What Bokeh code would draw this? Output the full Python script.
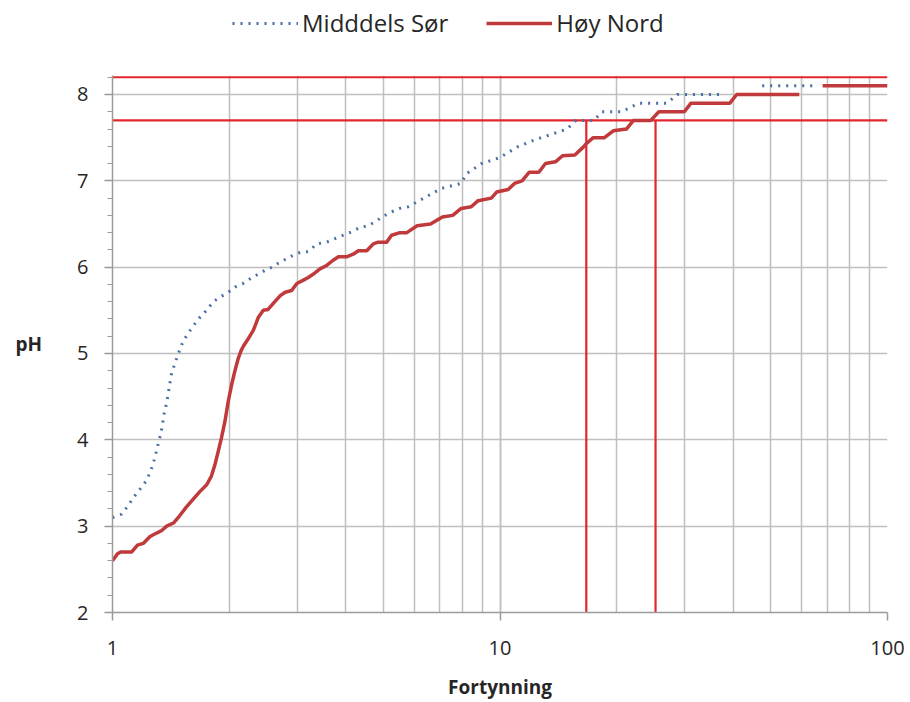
import numpy as np
from bokeh.plotting import figure
from bokeh.layouts import column
from bokeh.models import (Range1d, Legend, LegendItem, SingleIntervalTicker,
                          LogTicker)
from bokeh.embed import file_html
from bokeh.resources import INLINE

nan = float("nan")

# Middels Sør (dotted blue)
sor_x = [1.0, 1.056, 1.094, 1.132, 1.178, 1.22, 1.25, 1.275, 1.295, 1.313, 1.334,
         1.347, 1.36, 1.38, 1.393, 1.407, 1.421, 1.45, 1.479, 1.508, 1.554, 1.61,
         1.675, 1.75, 1.82, 1.89, 1.99, 2.07, 2.17, 2.29, 2.38, 2.47, 2.58, 2.71,
         2.82, 2.93, 3.05, 3.2, 3.37, 3.57, 3.75, 3.94, 4.14, 4.35, 4.57, 4.81,
         5.0, 5.25, 5.5, 5.8, 6.3, 7.04, 7.94, 8.18, 8.96, 10.0, 11.06, 12.2,
         13.4, 14.9, 15.7, 17.5, 18.3, 20.6, 21.7, 22.8, 27.0, 28.7, 38.0, nan,
         47.5, 65.6]
sor_ph = [3.1, 3.14, 3.23, 3.33, 3.43, 3.52, 3.62, 3.73, 3.85, 3.96, 4.08,
          4.19, 4.31, 4.43, 4.54, 4.66, 4.77, 4.89, 5.0, 5.1, 5.21, 5.31,
          5.41, 5.5, 5.6, 5.65, 5.71, 5.77, 5.81, 5.88, 5.92, 5.96, 6.0, 6.06,
          6.1, 6.14, 6.17, 6.18, 6.27, 6.29, 6.33, 6.37, 6.41, 6.46, 6.48, 6.54,
          6.59, 6.64, 6.68, 6.7, 6.79, 6.91, 6.97, 7.08, 7.2, 7.27, 7.39, 7.47,
          7.53, 7.6, 7.7, 7.7, 7.8, 7.8, 7.85, 7.9, 7.9, 8.0, 8.0, nan,
          8.1, 8.1]

# Høy Nord (solid red)
nord_x = [1.0, 1.03, 1.05, 1.12, 1.16, 1.2, 1.25, 1.3, 1.34, 1.38, 1.44, 1.49,
          1.55, 1.62, 1.68, 1.75, 1.80, 1.84, 1.875, 1.91, 1.95, 1.99, 2.03,
          2.07, 2.11, 2.15, 2.18, 2.24, 2.31, 2.38, 2.45, 2.52, 2.60, 2.71,
          2.79, 2.90, 2.99, 3.11, 3.20, 3.30, 3.43, 3.57, 3.71, 3.83, 4.02,
          4.18, 4.31, 4.53, 4.71, 4.85, 5.10, 5.25, 5.52, 5.75, 6.11, 6.62,
          7.1, 7.55, 7.94, 8.43, 8.78, 9.5, 9.8, 10.5, 10.9, 11.4, 11.9, 12.6,
          13.1, 13.9, 14.5, 15.6, 16.4, 16.7, 17.4, 18.6, 19.6, 21.2, 22.1,
          24.5, 25.7, 29.9, 31.1, 39.2, 40.8, 59.2, nan, 68.0, 100.0]
nord_ph = [2.6, 2.68, 2.7, 2.7, 2.78, 2.8, 2.88, 2.92, 2.95, 3.0, 3.04, 3.12,
           3.22, 3.32, 3.4, 3.48, 3.58, 3.72, 3.87, 4.02, 4.21, 4.45, 4.64,
           4.8, 4.94, 5.04, 5.09, 5.17, 5.27, 5.42, 5.5, 5.51, 5.58, 5.67,
           5.71, 5.73, 5.81, 5.85, 5.88, 5.92, 5.98, 6.02, 6.08, 6.12, 6.12,
           6.15, 6.19, 6.19, 6.27, 6.29, 6.29, 6.37, 6.4, 6.4, 6.48, 6.5,
           6.58, 6.6, 6.68, 6.7, 6.77, 6.8, 6.87, 6.9, 6.97, 7.0, 7.1, 7.1,
           7.2, 7.22, 7.29, 7.3, 7.39, 7.43, 7.5, 7.5, 7.58, 7.6, 7.7,
           7.7, 7.8, 7.8, 7.9, 7.9, 8.0, 8.0, nan, 8.1, 8.1]

# reference lines
h_lines = [8.2, 7.7]
v_lines = [16.7, 25.2]
series_names = ["Midddels Sør", "Høy Nord"]

FONT = "Open Sans"
GRID = "#BFBFBF"
AXIS = "#9A9A9A"
REF_RED = "#E3262E"
SER_RED = "#C0393B"
BLUE = "#4A6FA5"
TXT = "#262626"

p = figure(width=910, height=652, frame_width=775, frame_height=537,
           x_axis_type="log", title=None,
           x_range=Range1d(1, 100), y_range=Range1d(2, 8.22),
           output_backend="svg", toolbar_location=None,
           min_border_left=112, min_border_right=23,
           min_border_bottom=90, min_border_top=25)
p.outline_line_color = None
p.background_fill_color = "white"

# grids
p.xgrid.grid_line_color = GRID
p.xgrid.grid_line_width = 1.5
p.xgrid.minor_grid_line_color = GRID
p.xgrid.minor_grid_line_width = 1.5
p.ygrid.grid_line_color = GRID
p.ygrid.grid_line_width = 1.5

# x axis
p.xaxis.ticker = LogTicker(num_minor_ticks=10)
p.xaxis.major_label_overrides = {1: "1", 10: "10", 100: "100"}
p.xaxis.axis_label = "Fortynning"
p.xaxis.major_tick_out = 8
p.xaxis.major_tick_in = 0
p.xaxis.minor_tick_out = 0
p.xaxis.major_label_standoff = 20
p.xaxis.axis_label_standoff = 16

# y axis
p.yaxis.ticker = SingleIntervalTicker(interval=1, num_minor_ticks=5)
p.yaxis.axis_label = "pH"
p.yaxis.axis_label_orientation = "horizontal"
p.yaxis.major_tick_out = 8
p.yaxis.major_tick_in = 0
p.yaxis.minor_tick_out = 5
p.yaxis.minor_tick_in = 0
p.yaxis.major_label_standoff = 16
p.yaxis.axis_label_standoff = 32

for ax in (p.xaxis, p.yaxis):
    ax.axis_line_color = AXIS
    ax.axis_line_width = 1.5
    ax.major_tick_line_color = AXIS
    ax.major_tick_line_width = 1.5
    ax.major_label_text_font = FONT
    ax.major_label_text_font_size = "20px"
    ax.major_label_text_color = TXT
    ax.axis_label_text_font = FONT
    ax.axis_label_text_font_size = "19px"
    ax.axis_label_text_font_style = "bold"
    ax.axis_label_text_color = TXT
p.xaxis.minor_tick_line_color = None
p.yaxis.minor_tick_line_color = AXIS

# reference lines
for h in h_lines:
    p.segment(x0=1, y0=h, x1=100, y1=h, line_color=REF_RED, line_width=2.2)
for v in v_lines:
    p.segment(x0=v, y0=2, x1=v, y1=h_lines[1], line_color=REF_RED, line_width=2.2)

p.line(sor_x, sor_ph, line_color=BLUE, line_width=3, line_dash="2 6")
p.line(nord_x, nord_ph, line_color=SER_RED, line_width=3.5)

# legend strip above the chart (series drawn off-range so only the legend shows)
lg = figure(width=910, height=50, x_range=Range1d(-2, -1), y_range=Range1d(-2, -1),
            output_backend="svg", toolbar_location=None, title=None,
            x_axis_location=None, y_axis_location=None, min_border=0)
lg.grid.visible = False
lg.outline_line_color = None
l_sor = lg.line(sor_x, sor_ph, line_color=BLUE, line_width=3, line_dash="2 6")
l_nord = lg.line(nord_x, nord_ph, line_color=SER_RED, line_width=3.5)
legend = Legend(items=[LegendItem(label=series_names[0], renderers=[l_sor]),
                       LegendItem(label=series_names[1], renderers=[l_nord])],
                orientation="horizontal", location=(120, 11),
                glyph_width=66, spacing=38, label_standoff=4,
                label_text_font=FONT, label_text_font_size="24px",
                label_text_color=TXT,
                border_line_color=None, background_fill_alpha=0,
                margin=0, padding=4)
lg.add_layout(legend, "center")

layout = column(lg, p, spacing=0)
open("out.html", "w").write(file_html(layout, INLINE))
